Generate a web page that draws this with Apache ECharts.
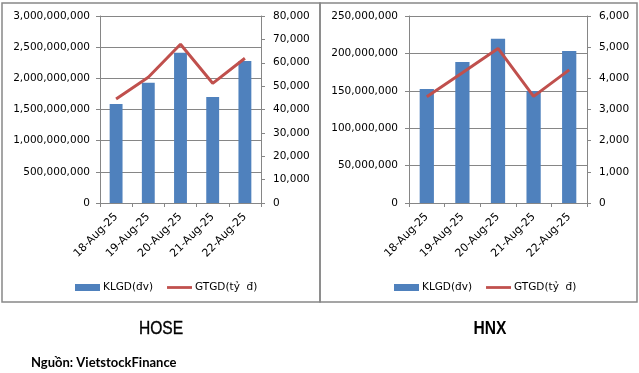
<!DOCTYPE html>
<html><head><meta charset="utf-8">
<script src="https://cdn.jsdelivr.net/npm/echarts@6/dist/echarts.min.js"></script>
<style>html,body{margin:0;padding:0;background:#fff}#c{width:639px;height:373px}</style>
</head><body><div id="c"></div>
<script>
const categories = ['18-Aug-25','19-Aug-25','20-Aug-25','21-Aug-25','22-Aug-25'];
const hoseVolume = [1590000000, 1930000000, 2410000000, 1700000000, 2280000000];
const hoseValue = [44500, 53800, 67900, 51200, 61900];
const hnxVolume = [152500000, 188500000, 219500000, 149700000, 203300000];
const hnxValue = [3410, 4180, 4960, 3420, 4270];
const seriesNames = ['KLGD(đv)', 'GTGD(tỷ  đ)'];
const panelTitles = ['HOSE', 'HNX'];
const sourceText = 'Nguồn: VietstockFinance';

const FONT = 'DejaVu Sans';
const fmt = v => Math.round(v).toString().replace(/\B(?=(\d{3})+(?!\d))/g, ',');
const grey = '#868686';

function yAxis(grid, max, interval, pos, margin) {
  return {
    type: 'value', gridIndex: grid, min: 0, max: max, interval: interval, position: pos,
    axisLine: {show: true, lineStyle: {color: grey}},
    axisTick: {show: true, length: 4, lineStyle: {color: grey}},
    splitLine: {show: pos === 'left', lineStyle: {color: grey, width: 1}},
    axisLabel: {fontFamily: FONT, fontSize: 10.5, color: '#000', margin: margin, formatter: fmt}
  };
}
function xAxis(grid) {
  return {
    type: 'category', gridIndex: grid, data: categories,
    axisLine: {lineStyle: {color: grey}},
    axisTick: {show: true, length: 4, alignWithLabel: false, lineStyle: {color: grey}},
    axisLabel: {rotate: 45, fontFamily: FONT, fontSize: 11, color: '#000', margin: 12, interval: 0}
  };
}
function legend(left) {
  return {
    left: left, top: 277, itemWidth: 25, itemHeight: 7, itemGap: 14, symbolKeepAspect: true,
    textStyle: {fontFamily: FONT, fontSize: 10.5, color: '#000', padding: [0,0,0,-2]},
    data: [{name: seriesNames[0], icon: 'rect'}, {name: seriesNames[1], icon: 'path://M0,0H27V3H0Z'}]
  };
}

const chart = echarts.init(document.getElementById('c'), null, {renderer: 'canvas'});
chart.setOption({
  animation: false,
  grid: [
    {left: 100, right: 378, top: 16, bottom: 170},
    {left: 409, right: 52, top: 16, bottom: 170}
  ],
  xAxis: [xAxis(0), xAxis(1)],
  yAxis: [
    yAxis(0, 3000000000, 500000000, 'left', 10),
    yAxis(0, 80000, 10000, 'right', 12),
    yAxis(1, 250000000, 50000000, 'left', 11),
    yAxis(1, 6000, 1000, 'right', 12)
  ],
  legend: [legend(70), legend(389)],
  title: [
    {text: sourceText, left: 26, top: 351,
     textStyle: {fontFamily: 'Lato', fontWeight: 'bold', fontSize: 13, color: '#000'}}
  ],
  graphic: [
    {type: 'rect', shape: {x: 2, y: 3, width: 318, height: 299}, style: {fill: 'none', stroke: '#888', lineWidth: 1.5}, silent: true},
    {type: 'rect', shape: {x: 320, y: 3, width: 317, height: 299}, style: {fill: 'none', stroke: '#888', lineWidth: 1.5}, silent: true},
    {type: 'text', x: 161, y: 329, scaleX: 0.82, style: {text: panelTitles[0], fontFamily: 'Liberation Sans', fontSize: 19, fill: '#000', align: 'center', verticalAlign: 'middle', stroke: '#000', lineWidth: 0.4}, silent: true},
    {type: 'text', x: 490, y: 329, scaleX: 0.82, style: {text: panelTitles[1], fontFamily: 'Liberation Sans', fontWeight: 'bold', fontSize: 19, fill: '#000', align: 'center', verticalAlign: 'middle'}, silent: true}
  ],
  series: [
    {name: seriesNames[0], type: 'bar', xAxisIndex: 0, yAxisIndex: 0, data: hoseVolume, barWidth: '40%', itemStyle: {color: '#4F81BD'}},
    {name: seriesNames[1], type: 'line', xAxisIndex: 0, yAxisIndex: 1, data: hoseValue, symbol: 'none', lineStyle: {color: '#C0504D', width: 3}, itemStyle: {color: '#C0504D'}},
    {name: seriesNames[0], type: 'bar', xAxisIndex: 1, yAxisIndex: 2, data: hnxVolume, barWidth: '40%', itemStyle: {color: '#4F81BD'}},
    {name: seriesNames[1], type: 'line', xAxisIndex: 1, yAxisIndex: 3, data: hnxValue, symbol: 'none', lineStyle: {color: '#C0504D', width: 3}, itemStyle: {color: '#C0504D'}}
  ]
});
</script></body></html>
